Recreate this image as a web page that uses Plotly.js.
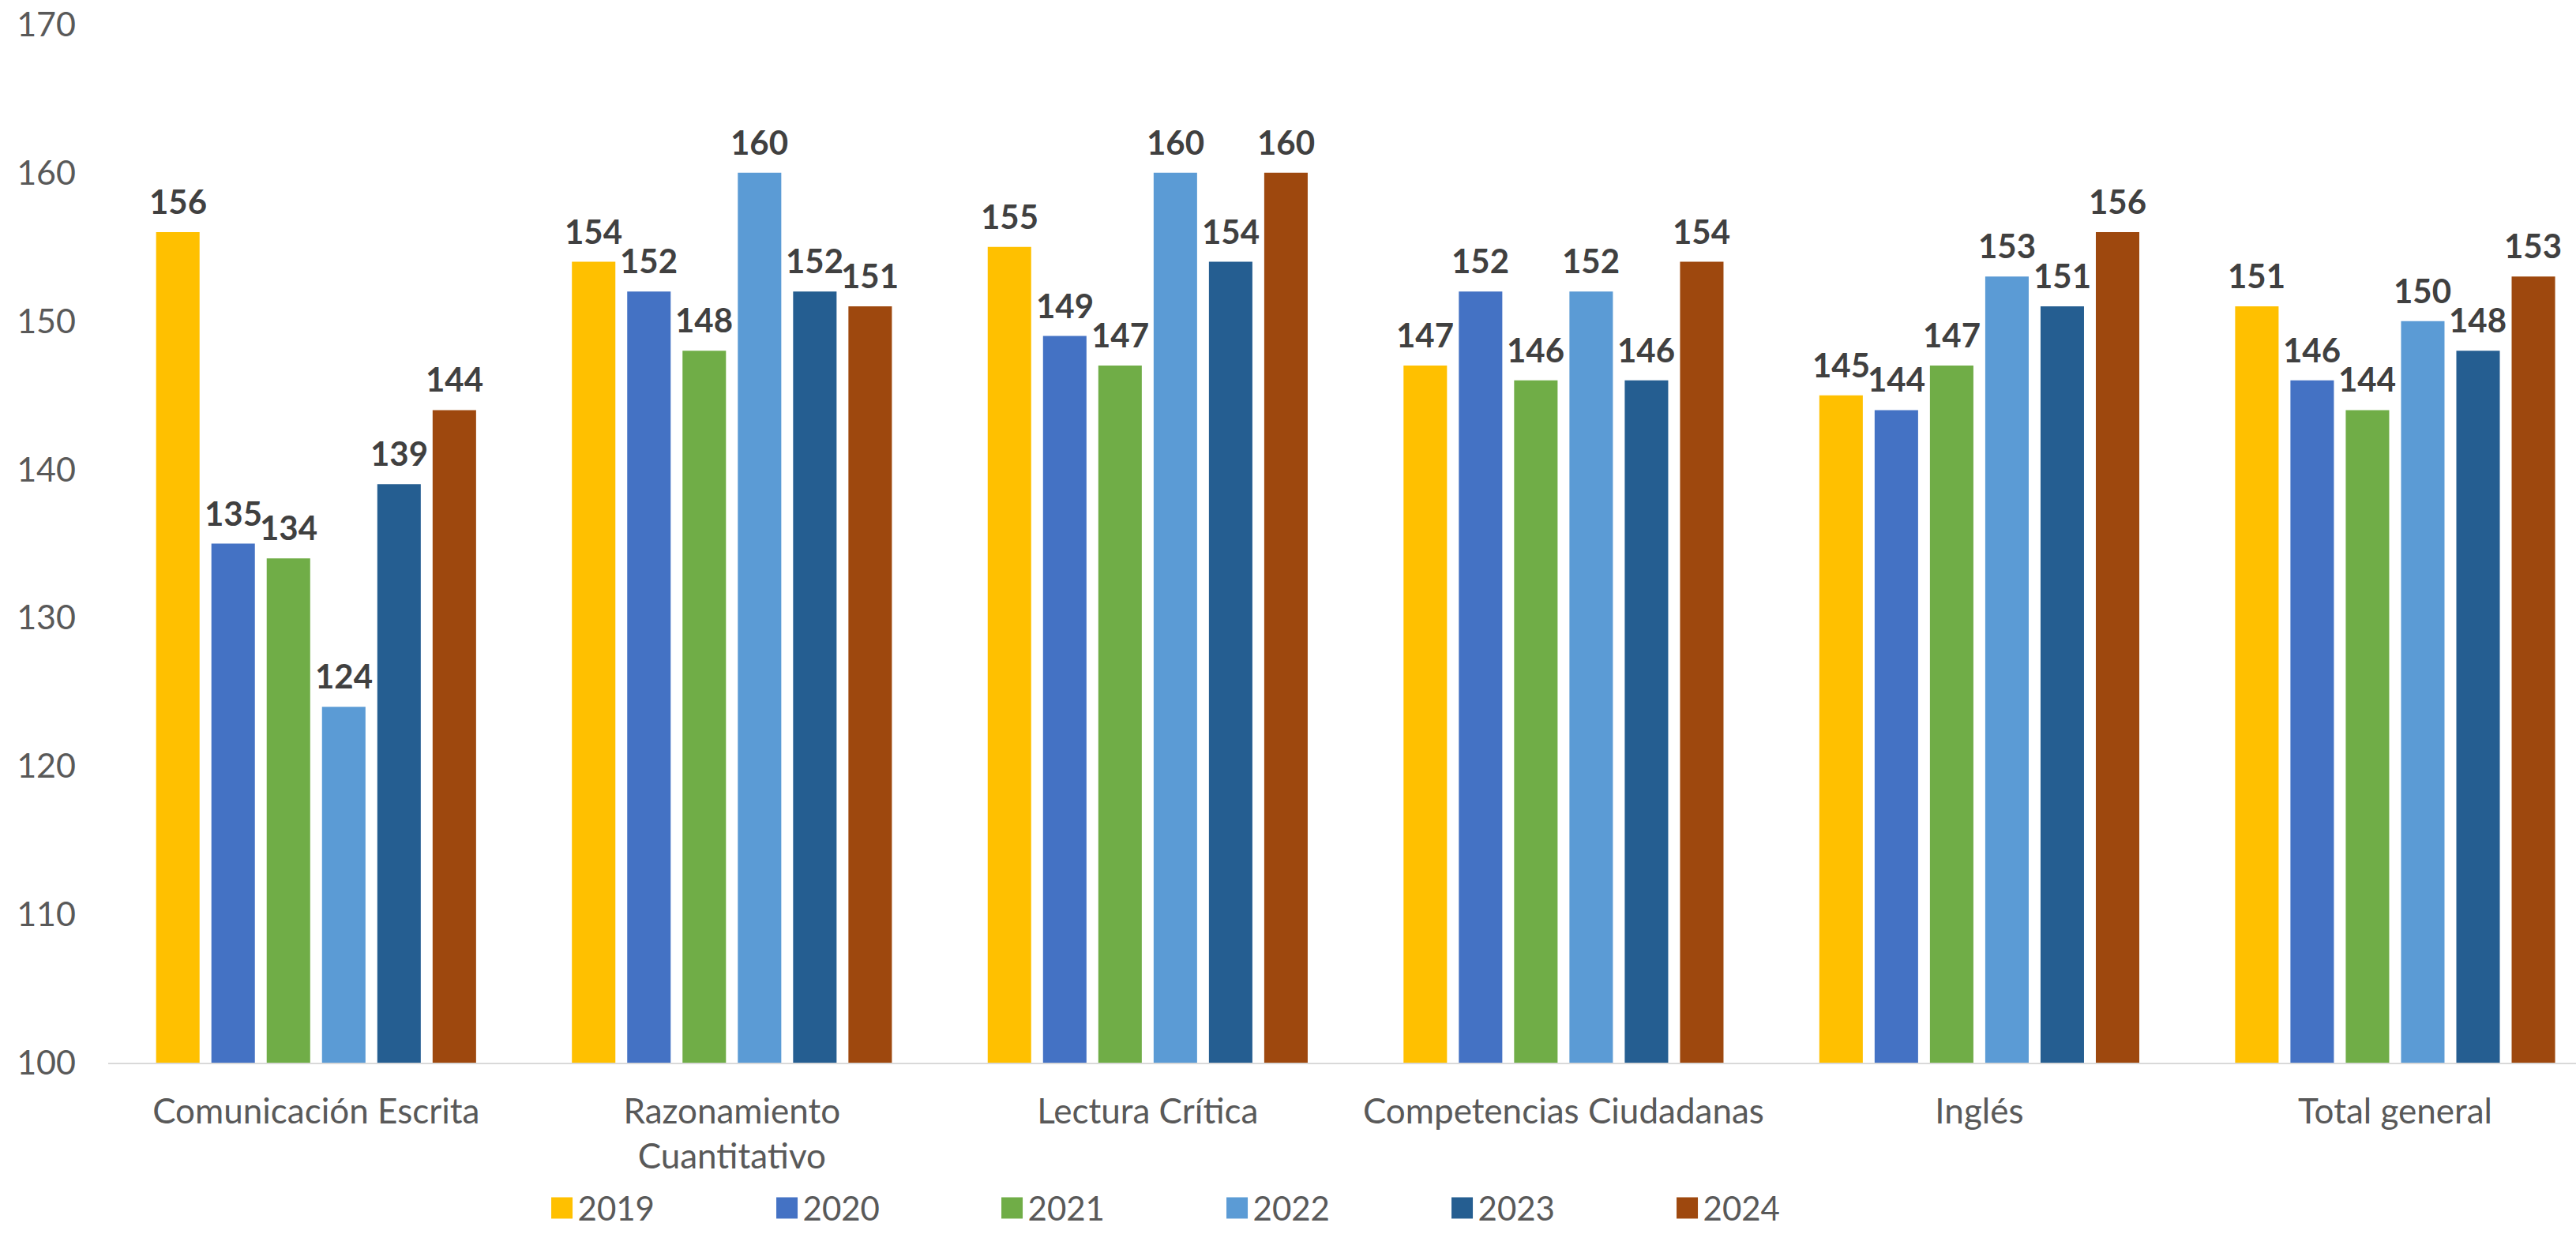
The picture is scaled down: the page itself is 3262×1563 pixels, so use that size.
<!DOCTYPE html>
<html>
<head>
<meta charset="utf-8">
<script src="https://cdn.plot.ly/plotly-3.0.1.min.js"></script>
<style>
  html, body { margin: 0; padding: 0; background: #ffffff; overflow: hidden; }
  #chart { width: 3262px; height: 1563px; }
</style>
</head>
<body>
<div id="chart"></div>
<script>
// ---- data ----
const categories = [
  "Comunicación Escrita",
  "Razonamiento<br>Cuantitativo",
  "Lectura Crítica",
  "Competencias Ciudadanas",
  "Inglés",
  "Total general"
];
const years = ["2019", "2020", "2021", "2022", "2023", "2024"];
const v2019 = [156, 154, 155, 147, 145, 151];
const v2020 = [135, 152, 149, 152, 144, 146];
const v2021 = [134, 148, 147, 146, 147, 144];
const v2022 = [124, 160, 160, 152, 153, 150];
const v2023 = [139, 152, 154, 146, 151, 148];
const v2024 = [144, 151, 160, 154, 156, 153];
const yTicks = [100, 110, 120, 130, 140, 150, 160, 170];

// ---- styles ----
const colors = ["#FFC000", "#4472C4", "#70AD47", "#5B9BD5", "#255E91", "#9E480E"];
const series = [v2019, v2020, v2021, v2022, v2023, v2024];
const FONT = "Lato, 'Open Sans', sans-serif";
const slotPx = 70; // pixel distance between neighbouring bars in a group

const traces = series.map((vals, j) => ({
  type: "bar",
  name: years[j],
  x: categories,
  y: vals,
  marker: { color: colors[j], line: { width: 0 } },
  hoverinfo: "x+y+name"
}));

const annotations = [];
series.forEach((vals, j) => {
  vals.forEach((v, i) => {
    annotations.push({
      x: categories[i], y: v, xref: "x", yref: "y",
      text: "<b>" + v + "</b>",
      showarrow: false,
      xanchor: "center", yanchor: "bottom",
      xshift: (j - (series.length - 1) / 2) * slotPx,
      yshift: 12,
      font: { family: FONT, size: 42, color: "#404040" }
    });
  });
});

const layout = {
  width: 3262,
  height: 1563,
  margin: { l: 137, r: 0, t: 31, b: 217, pad: 0 },
  paper_bgcolor: "#ffffff",
  plot_bgcolor: "#ffffff",
  font: { family: FONT, size: 42, color: "#595959" },
  barmode: "group",
  bargap: 0.202,
  bargroupgap: 0.214,
  showlegend: true,
  legend: {
    orientation: "h",
    xref: "container", yref: "container",
    x: 0.212, y: 0.021,
    xanchor: "left", yanchor: "middle",
    font: { family: FONT, size: 42, color: "#595959" },
    entrywidth: 240,
    entrywidthmode: "pixels",
    traceorder: "normal",
    bgcolor: "rgba(0,0,0,0)"
  },
  xaxis: {
    type: "category",
    range: [-0.5, 5.435],
    showgrid: false,
    zeroline: false,
    showline: true,
    linecolor: "#d9d9d9",
    linewidth: 2,
    ticks: "",
    ticklabelstandoff: 22,
    tickfont: { family: FONT, size: 44, color: "#595959" },
    fixedrange: true
  },
  yaxis: {
    range: [100, 170],
    tickvals: yTicks,
    ticktext: yTicks.map(String),
    showgrid: false,
    zeroline: false,
    showline: false,
    ticks: "",
    ticklabelstandoff: 40,
    tickfont: { family: FONT, size: 43, color: "#595959" },
    fixedrange: true
  },
  annotations: annotations
};

Plotly.newPlot("chart", traces, layout, { displayModeBar: false, staticPlot: true }).then(() => {
  // enlarge legend colour squares to match the reference
  document.querySelectorAll("#chart .legendpoints path").forEach(p => {
    p.setAttribute("d", "M13.5,13.5H-13.5V-13.5H13.5Z");
  });
});
</script>
</body>
</html>
